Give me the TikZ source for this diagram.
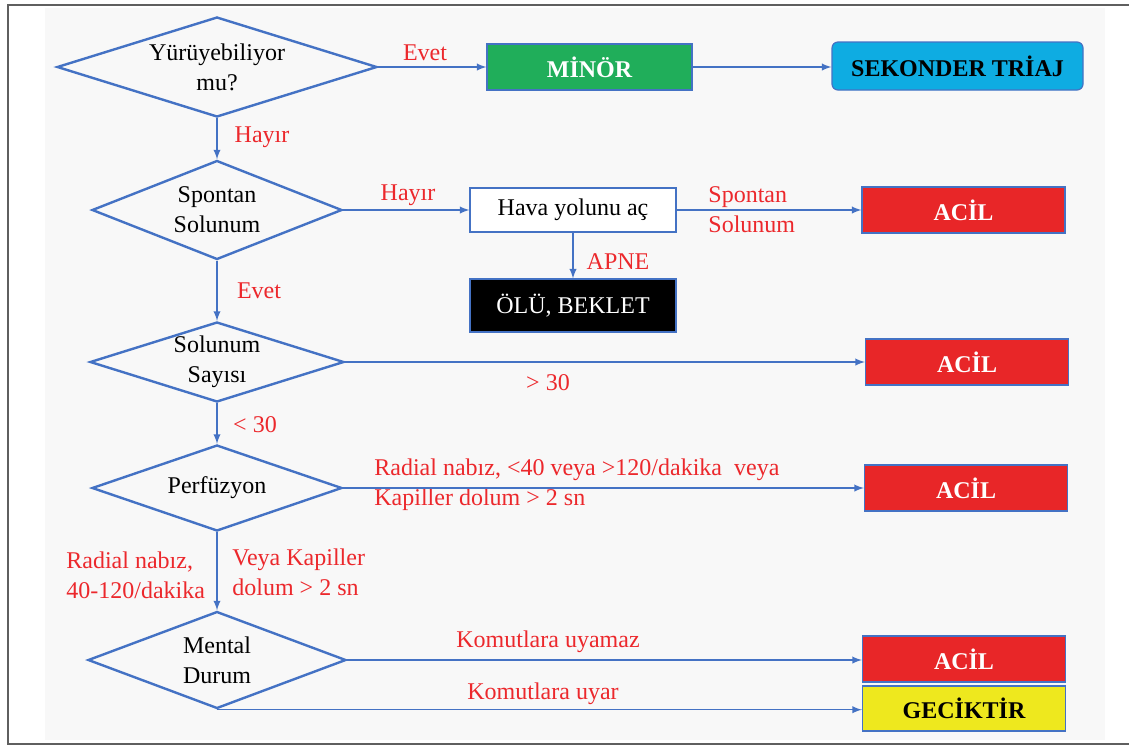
\documentclass[tikz,border=0pt]{standalone}
\usepackage{fontspec}
\setmainfont{Liberation Serif}
\usepackage{xcolor}
\usepackage{tikz}
\usetikzlibrary{positioning}
\usetikzlibrary{shapes,arrows}

\definecolor{flowblue}{RGB}{68,114,196}
\definecolor{labred}{RGB}{236,40,44}
\definecolor{minorgreen}{RGB}{32,174,90}
\definecolor{sekblue}{RGB}{14,172,226}
\definecolor{acilred}{RGB}{232,38,40}
\definecolor{gecyellow}{RGB}{238,232,30}
\definecolor{panelgray}{RGB}{248,248,248}
\definecolor{framegray}{RGB}{95,95,95}

\tikzstyle{decide} = [diamond, draw=flowblue, line width=1.2pt, inner sep=-3pt, align=center, font=\fontsize{12}{15}\selectfont]
\tikzstyle{outbox} = [rectangle, draw=flowblue, line width=0.6pt, minimum width=101.5pt, minimum height=23pt, font=\bfseries\fontsize{12}{15}\selectfont]
\tikzstyle{conn} = [draw=flowblue, line width=0.65pt, -latex]
\tikzstyle{answer} = [text=labred, inner sep=0pt, font=\fontsize{12}{15}\selectfont]

\begin{document}
\begin{tikzpicture}[x=0.5pt, y=-0.5pt]
\useasboundingbox (0,0) rectangle (1129,746);
\fill [panelgray] (45,8) rectangle (1105,740);
\draw [framegray, line width=1pt] (1129,5) -- (8,5) -- (8,744) -- (1129,744);

% questions
\node [decide, minimum width=160pt, minimum height=50pt, aspect=3.2] at (217,67) (walk) {Yürüyebiliyor\\mu?};
\node [decide, minimum width=125pt, minimum height=49.5pt, aspect=2.53] at (217,210) (breath) {Spontan\\Solunum};
\node [decide, minimum width=127pt, minimum height=40pt, aspect=3.18] at (217,362) (rate) {Solunum\\Sayısı};
\node [decide, minimum width=125pt, minimum height=43pt, aspect=2.9] at (217,488) (perf) {Perfüzyon};
\node [decide, minimum width=129pt, minimum height=48.5pt, aspect=2.66] at (217,660) (mental) {Mental\\Durum};

% results
\node [outbox, fill=minorgreen, text=white, minimum width=102.5pt] at (589.5,67) (minor) {MİNÖR};
\node [outbox, fill=sekblue, rounded corners=3pt, minimum width=125.5pt, minimum height=24pt] at (957.5,66) (sek) {SEKONDER TRİAJ};
\node [outbox, fill=white, font=\fontsize{12}{15}\selectfont, minimum width=103pt, minimum height=22pt] at (573,210) (airway) {Hava yolunu aç};
\node [outbox, fill=black, text=white, font=\fontsize{12}{15}\selectfont, minimum width=103pt, minimum height=26.5pt] at (573,305.5) (dead) {ÖLÜ, BEKLET};
\node [outbox, fill=acilred, text=white] at (963.5,210) (acil1) {ACİL};
\node [outbox, fill=acilred, text=white] at (967,362) (acil2) {ACİL};
\node [outbox, fill=acilred, text=white] at (966,488) (acil3) {ACİL};
\node [outbox, fill=acilred, text=white] at (964,659) (acil4) {ACİL};
\node [outbox, fill=gecyellow, minimum height=22.5pt] at (964,708.5) (delay) {GECİKTİR};

% answers
\node [answer] at (425,53) (walkyes) {Evet};
\node [answer] at (262,137) (walkno) {Hayır};
\node [answer] at (408,195) (breathno) {Hayır};
\node [answer, anchor=west, align=left] at (708,210) (airwayok) {Spontan\\Solunum};
\node [answer] at (618,262) (apne) {APNE};
\node [answer] at (259,291) (breathyes) {Evet};
\node [answer] at (548,383) (ratehigh) {> 30};
\node [answer] at (255,425) (ratelow) {< 30};
\node [answer, anchor=west, align=left] at (374,485) (perfbad) {Radial nabız, <40 veya >120/dakika~ veya\\Kapiller dolum > 2 sn};
\node [answer, anchor=west, align=left] at (66,575) (perfok) {Radial nabız,\\40-120/dakika};
\node [answer, anchor=west, align=left] at (232,572) (perfor) {Veya Kapiller\\dolum > 2 sn};
\node [answer] at (548,642) (noobey) {Komutlara uyamaz};
\node [answer] at (543,694) (obey) {Komutlara uyar};

% connectors
\path [conn] (walk.east) to (minor.west);
\path [conn] (minor.east) to (sek.west |- minor.east);
\path [conn] (walk.south) to (breath.north);
\path [conn] (breath.east) to (airway.west);
\path [conn] (airway.east) to (acil1.west);
\path [conn] (airway.south) to (dead.north);
\path [conn] (breath.south) to (rate.north);
\path [conn] (rate.east) to (acil2.west);
\path [conn] (rate.south) to (perf.north);
\path [conn] (perf.east) to (acil3.west);
\path [conn] (perf.south) to (mental.north);
\path [conn] (mental.east) to (mental.east -| acil4.west);
\path [conn] (mental.south) to (mental.south -| delay.west);
\end{tikzpicture}
\end{document}
